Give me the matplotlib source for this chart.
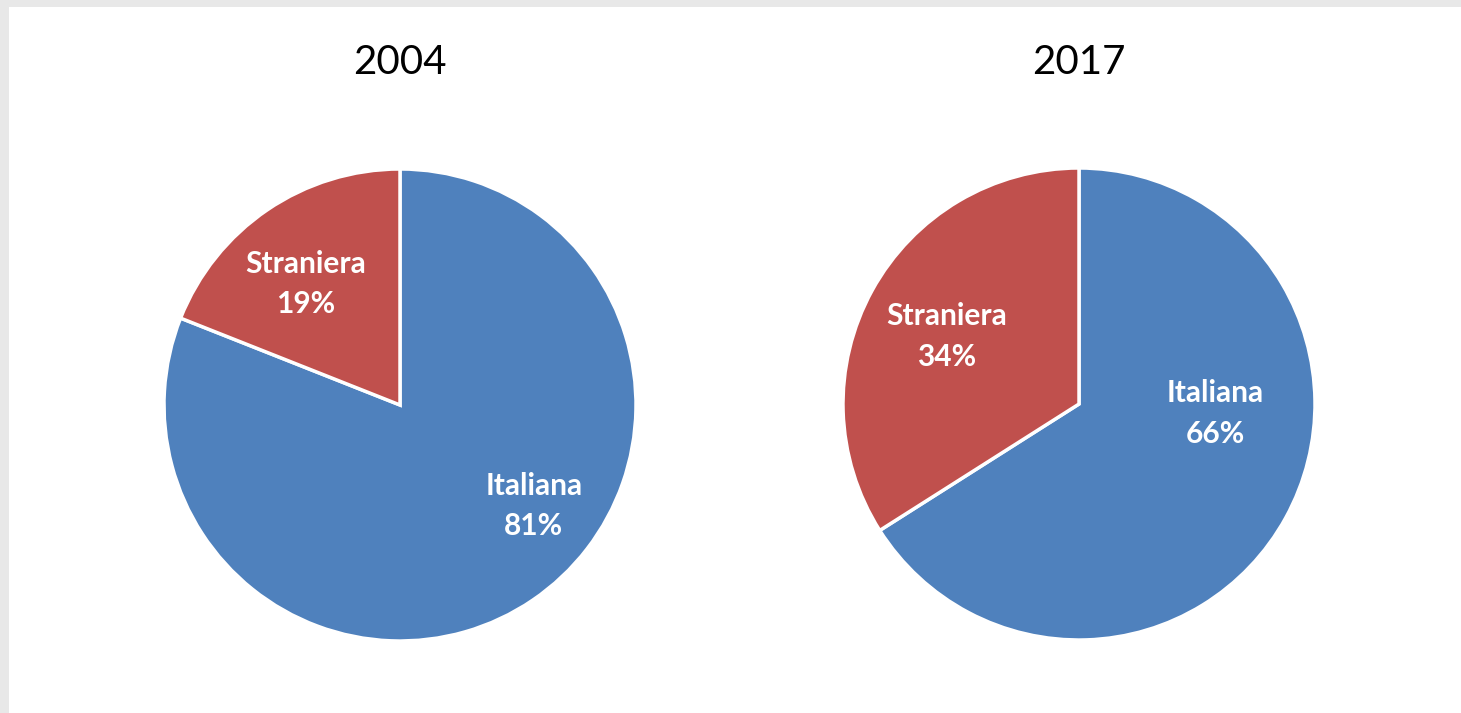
import numpy as np
import matplotlib.pyplot as plt
from matplotlib.patches import Rectangle

years = ["2004", "2017"]
categories = ["Italiana", "Straniera"]
shares_2004 = [81, 19]
shares_2017 = [66, 34]

colors = ["#4F81BD", "#C0504D"]

# label placement (radius fraction, degrees clockwise from 12 o'clock), per pie
label_pos = {
    "2004": [(0.71, 127), (0.65, 322)],
    "2017": [(0.58, 94), (0.63, 297)],
}

W, H = 1461, 713
fig = plt.figure(figsize=(W / 100, H / 100), dpi=100)
fig.patch.set_facecolor("#e8e8e8")
fig.patches.append(Rectangle((9 / W, 0), 1 - 9 / W, (H - 7) / H, transform=fig.transFigure,
                             facecolor="white", edgecolor="none", zorder=-5))

centers = [(400, 405), (1079, 404)]
R = 236

for year, shares, (cx, cy) in zip(years, [shares_2004, shares_2017], centers):
    ax = fig.add_axes([(cx - R) / W, (H - cy - R) / H, 2 * R / W, 2 * R / H])
    ax.pie(shares, colors=colors, startangle=90, counterclock=False, radius=1,
           wedgeprops=dict(edgecolor="white", linewidth=2.5))
    ax.set_xlim(-1, 1)
    ax.set_ylim(-1, 1)
    ax.axis("off")
    for cat, val, (r, ang) in zip(categories, shares, label_pos[year]):
        a = np.deg2rad(90 - ang)
        ax.text(r * np.cos(a), r * np.sin(a), f"{cat}\n{val}%", ha="center", va="center",
                color="white", fontsize=21.5, fontweight="bold", family="Lato", linespacing=1.55)
    fig.text(cx / W, (H - 62) / H, year, ha="center", va="center", fontsize=29, family="Lato")

plt.savefig("out.png", dpi=100, facecolor=fig.get_facecolor())
